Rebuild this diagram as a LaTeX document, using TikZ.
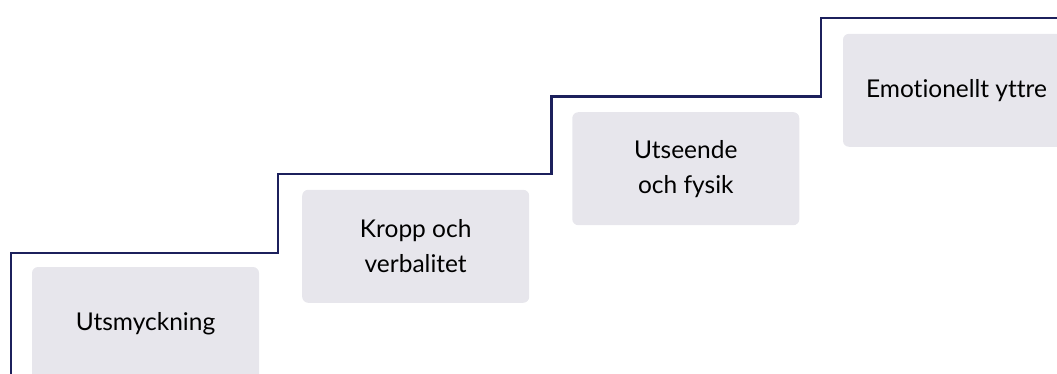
\documentclass[tikz,border=0pt]{standalone}
\usepackage{fontspec}
\setmainfont{Lato}[Ligatures={NoCommon,NoRare,NoContextual}]
\definecolor{stairblue}{HTML}{1C205C}
\definecolor{boxgrey}{HTML}{E7E6EC}

\begin{document}
\begin{tikzpicture}[x=1pt, y=-1pt,
    stepbox/.style={fill=boxgrey, rounded corners=6pt, minimum width=227pt,
      minimum height=113pt, align=center, text=black,
      font=\fontsize{24.5}{35}\selectfont},
    stairline/.style={stairblue, line width=2.6pt}]
    \useasboundingbox (0,0) rectangle (1057,374);
    \clip (0,0) rectangle (1057,374);
    % boxes on the steps
    \node [stepbox] (utsmyckning) at (145.5,323.5) {Utsmyckning};
    \node [stepbox] (kropp) at (415.7,246.3) {Kropp och\\verbalitet};
    \node [stepbox] (utseende) at (685.8,168.7) {Utseende\\och fysik};
    \node [stepbox] (emotionellt) at (956.5,90.3) {Emotionellt yttre};
    % the stair
    \draw [stairline] (11,380) -- (11,253) -- (278,253) -- (278,174)
        -- (551.5,174) -- (551.5,96.5) -- (821,96.5) -- (821,18) -- (1062,18);
\end{tikzpicture}
\end{document}
